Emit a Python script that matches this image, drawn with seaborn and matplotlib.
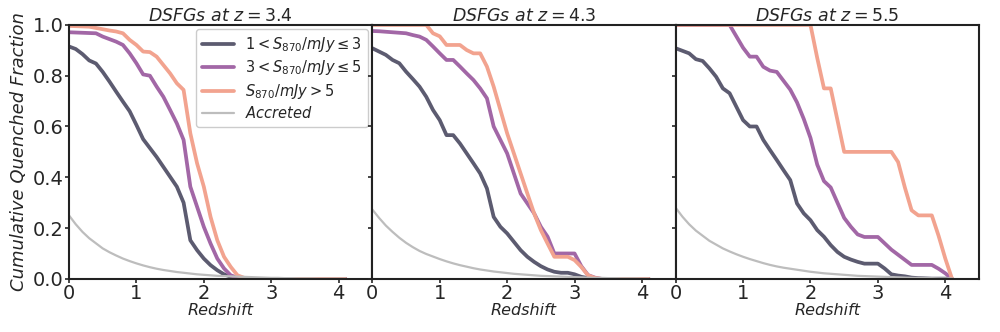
import numpy as np
import pandas as pd
import matplotlib
matplotlib.use("Agg")
import matplotlib.pyplot as plt
import seaborn as sns

sns.set_theme(style="ticks")
plt.rcParams['font.family'] = ['DejaVu Sans']
plt.rcParams['mathtext.fontset'] = 'dejavusans'

# redshift grid (0 .. 4.1, step 0.1)
z = np.round(np.arange(0, 4.15, 0.1), 1)

titles = [r'$\it{DSFGs\ at}\ z = 3.4$', r'$\it{DSFGs\ at}\ z = 4.3$', r'$\it{DSFGs\ at}\ z = 5.5$']
labels = [r'$1 < S_{870}/mJy \leq 3$', r'$3 < S_{870}/mJy \leq 5$',
          r'$S_{870}/mJy > 5$', r'$Accreted$']
colors = ['#5c5b70', '#a267a6', '#f2a38f', '#bdbdbd']

# ---- z = 3.4
faint_34 = [0.915, 0.905, 0.885, 0.86, 0.848, 0.815, 0.777, 0.737, 0.698, 0.66,
            0.606, 0.55, 0.515, 0.48, 0.441, 0.402, 0.363, 0.30, 0.152, 0.113,
            0.08, 0.054, 0.034, 0.018, 0.008, 0.003, 0.001,
            0, 0, 0, 0, 0, 0, 0, 0, 0, 0, 0, 0, 0, 0, 0]
mid_34 = [0.971, 0.97, 0.969, 0.968, 0.967, 0.954, 0.944, 0.934, 0.921, 0.888,
          0.849, 0.805, 0.80, 0.757, 0.717, 0.665, 0.612, 0.547, 0.363, 0.284,
          0.205, 0.139, 0.08, 0.041, 0.014, 0.005, 0.002,
          0, 0, 0, 0, 0, 0, 0, 0, 0, 0, 0, 0, 0, 0, 0]
bright_34 = [0.996, 0.995, 0.994, 0.993, 0.988, 0.983, 0.978, 0.974, 0.967, 0.941,
             0.921, 0.895, 0.893, 0.875, 0.842, 0.809, 0.77, 0.744, 0.573, 0.455,
             0.363, 0.244, 0.152, 0.087, 0.047, 0.014, 0.004,
             0, 0, 0, 0, 0, 0, 0, 0, 0, 0, 0, 0, 0, 0, 0]
accr_34 = [0.25, 0.215, 0.185, 0.16, 0.14, 0.12, 0.105, 0.092, 0.08, 0.07,
           0.061, 0.053, 0.046, 0.04, 0.035, 0.031, 0.027, 0.024, 0.021, 0.018,
           0.016, 0.014, 0.012, 0.011, 0.01, 0.009, 0.008, 0.007, 0.006, 0.005,
           0.004, 0.004, 0.003, 0.003, 0.002, 0.002, 0.002, 0.001, 0.001, 0.001,
           0.001, 0.001]

# ---- z = 4.3
faint_43 = [0.908, 0.895, 0.882, 0.862, 0.849, 0.816, 0.787, 0.757, 0.717, 0.665,
            0.625, 0.566, 0.566, 0.533, 0.494, 0.455, 0.415, 0.356, 0.244, 0.205,
            0.179, 0.146, 0.113, 0.087, 0.067, 0.05, 0.037, 0.028, 0.024, 0.024,
            0.018, 0.008, 0.003,
            0, 0, 0, 0, 0, 0, 0, 0, 0]
mid_43 = [0.976, 0.975, 0.973, 0.971, 0.969, 0.967, 0.96, 0.954, 0.941, 0.915,
          0.888, 0.862, 0.862, 0.836, 0.809, 0.783, 0.75, 0.711, 0.60, 0.547,
          0.494, 0.415, 0.336, 0.297, 0.258, 0.205, 0.166, 0.10, 0.10, 0.10,
          0.10, 0.05, 0.015, 0.005,
          0, 0, 0, 0, 0, 0, 0, 0]
bright_43 = [1.0, 1.0, 1.0, 1.0, 1.0, 1.0, 1.0, 1.0, 1.0, 0.967,
             0.955, 0.921, 0.921, 0.921, 0.901, 0.888, 0.888, 0.836, 0.757, 0.665,
             0.573, 0.494, 0.415, 0.336, 0.258, 0.192, 0.139, 0.087, 0.087, 0.087,
             0.074, 0.047, 0.014, 0.004,
             0, 0, 0, 0, 0, 0, 0, 0]
accr_43 = [0.273, 0.24, 0.21, 0.185, 0.162, 0.142, 0.125, 0.11, 0.098, 0.088,
           0.078, 0.069, 0.061, 0.054, 0.048, 0.042, 0.037, 0.033, 0.029, 0.026,
           0.023, 0.02, 0.018, 0.016, 0.014, 0.012, 0.011, 0.01, 0.009, 0.008,
           0.007, 0.006, 0.005, 0.004, 0.004, 0.003, 0.003, 0.002, 0.002, 0.002,
           0.001, 0.001]

# ---- z = 5.5
faint_55 = [0.908, 0.898, 0.888, 0.865, 0.858, 0.829, 0.796, 0.75, 0.731, 0.678,
            0.625, 0.60, 0.60, 0.547, 0.507, 0.468, 0.428, 0.389, 0.297, 0.258,
            0.231, 0.192, 0.166, 0.133, 0.106, 0.087, 0.076, 0.067, 0.06, 0.06,
            0.06, 0.041, 0.018, 0.013, 0.01, 0.005, 0.003, 0.002, 0.001, 0.001,
            0.001, 0]
mid_55 = [1.0, 1.0, 1.0, 1.0, 1.0, 1.0, 1.0, 1.0, 1.0, 0.955,
          0.91, 0.875, 0.875, 0.835, 0.82, 0.815, 0.78, 0.745, 0.695, 0.63,
          0.555, 0.45, 0.385, 0.36, 0.30, 0.24, 0.205, 0.175, 0.165, 0.165,
          0.165, 0.14, 0.115, 0.095, 0.075, 0.055, 0.055, 0.055, 0.055, 0.04,
          0.022, 0.0]
bright_55 = [1.0, 1.0, 1.0, 1.0, 1.0, 1.0, 1.0, 1.0, 1.0, 1.0,
             1.0, 1.0, 1.0, 1.0, 1.0, 1.0, 1.0, 1.0, 1.0, 1.0,
             1.0, 0.87, 0.75, 0.75, 0.625, 0.5, 0.5, 0.5, 0.5, 0.5,
             0.5, 0.5, 0.5, 0.46, 0.36, 0.27, 0.25, 0.25, 0.25, 0.17,
             0.08, 0.0]
accr_55 = [0.28, 0.245, 0.215, 0.19, 0.17, 0.15, 0.135, 0.12, 0.108, 0.097,
           0.087, 0.078, 0.07, 0.062, 0.055, 0.049, 0.044, 0.04, 0.036, 0.032,
           0.028, 0.025, 0.022, 0.02, 0.018, 0.016, 0.014, 0.012, 0.011, 0.01,
           0.009, 0.008, 0.007, 0.006, 0.005, 0.004, 0.004, 0.003, 0.003, 0.002,
           0.002, 0.002]

panels = [
    [faint_34, mid_34, bright_34, accr_34],
    [faint_43, mid_43, bright_43, accr_43],
    [faint_55, mid_55, bright_55, accr_55],
]

fig, axes = plt.subplots(1, 3, figsize=(10, 3.32), dpi=100, sharey=True)
fig.subplots_adjust(left=0.069, right=0.979, top=0.925, bottom=0.16, wspace=0)

for i, ax in enumerate(axes):
    for j, vals in enumerate(panels[i]):
        lw = 1.6 if j == 3 else 2.7
        sns.lineplot(x=z, y=vals, ax=ax, color=colors[j], lw=lw,
                     label=labels[j] if i == 0 else None, legend=False)
    ax.set_xlim(0, 4.5)
    ax.set_ylim(0, 1)
    ax.set_xticks([0, 1, 2, 3, 4])
    ax.set_yticks([0, 0.2, 0.4, 0.6, 0.8, 1.0])
    ax.tick_params(labelsize=14, length=3, width=1.2, pad=1)
    ax.set_title(titles[i], fontsize=12.5, pad=3)
    ax.set_xlabel('Redshift', fontsize=11.5, fontstyle='italic', labelpad=0)
    for sp in ax.spines.values():
        sp.set_linewidth(1.5)
        sp.set_color('#222222')
        sp.set_zorder(5)

axes[0].set_ylabel('Cumulative Quenched Fraction', fontsize=13,
                   fontstyle='italic', labelpad=3)
axes[0].legend(loc='upper right', fontsize=10.5, handlelength=2.2,
               borderaxespad=0.3, labelspacing=0.3, framealpha=1)

fig.savefig('out.png', dpi=100)
